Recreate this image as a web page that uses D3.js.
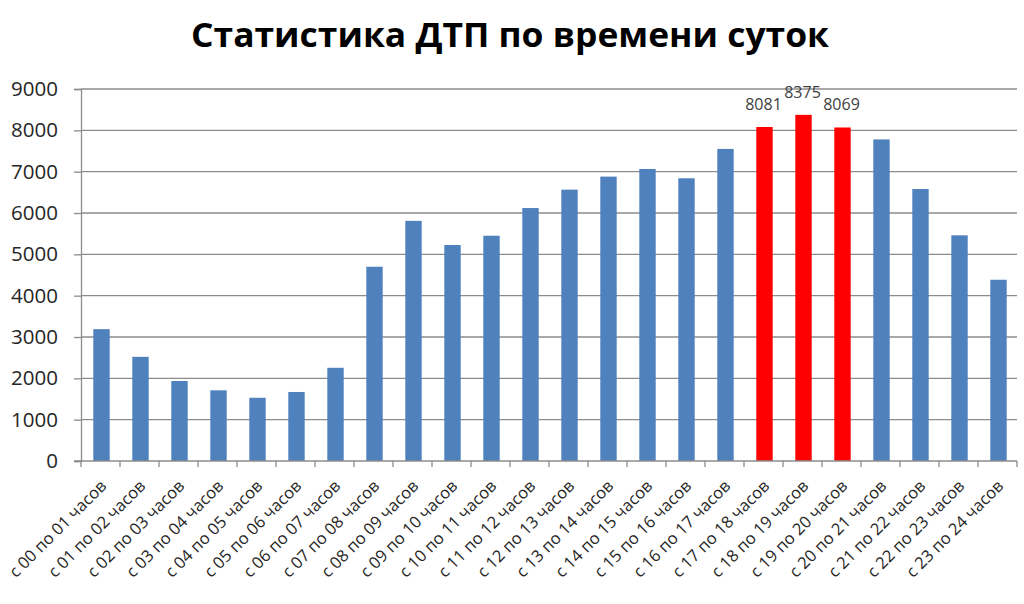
<!DOCTYPE html>
<html>
<head>
<meta charset="utf-8">
<script src="https://cdn.jsdelivr.net/npm/d3@7"></script>
<style>
  body { margin: 0; background: #fff; }
  svg { display: block; }
  text { font-family: "Open Sans", "DejaVu Sans", sans-serif; }
</style>
</head>
<body>
<svg id="chart" width="1024" height="604"></svg>
<script>
// часы суток
const hours = ['00','01','02','03','04','05','06','07','08','09','10','11',
               '12','13','14','15','16','17','18','19','20','21','22','23']
const categories = hours.map((h, i) => `с ${h} по ${String(i + 1).padStart(2, '0')} часов`)
// количество ДТП
const values = [3190, 2520, 1935, 1710, 1530, 1670, 2255, 4700, 5810, 5225, 5450, 6120,
                6565, 6880, 7065, 6840, 7550, 8081, 8375, 8069, 7780, 6580, 5460, 4385]
// выделенные часы пик
const peakHours = [17, 18, 19]
const yTicks = [0, 1000, 2000, 3000, 4000, 5000, 6000, 7000, 8000, 9000]

const BLUE = '#4f81bd'
const RED = '#ff0000'

const svg = d3.select('#chart')
const margin = {left: 81, right: 1017, top: 89, bottom: 461}

const x = d3.scaleBand()
    .domain(categories)
    .range([margin.left, margin.right])
    .paddingInner(0.58)
    .paddingOuter(0.29)

const y = d3.scaleLinear()
    .domain([0, 9000])
    .range([margin.bottom, margin.top])

const step = x.step()

// заголовок
svg.append('text')
    .attr('x', 510)
    .attr('y', 47)
    .attr('text-anchor', 'middle')
    .attr('font-size', 34)
    .attr('font-weight', 'bold')
    .attr('fill', '#000')
    .attr('textLength', 638)
    .attr('lengthAdjust', 'spacingAndGlyphs')
    .text('Статистика ДТП по времени суток')

// сетка
svg.append('g')
    .selectAll('line')
    .data(yTicks.filter((d) => d > 0))
    .enter()
        .append('line')
        .attr('x1', margin.left)
        .attr('x2', margin.right)
        .attr('y1', (d) => y(d))
        .attr('y2', (d) => y(d))
        .attr('stroke', '#8c8c8c')
        .attr('stroke-width', 1.3)

// ось Y
const yAxis = svg.append('g')
    .attr('transform', `translate(${margin.left},0)`)
    .call(d3.axisLeft(y).tickValues(yTicks).tickSize(7).tickPadding(16).tickFormat(d3.format('d')))
yAxis.select('.domain').attr('stroke', '#8c8c8c').attr('stroke-width', 1.3)
yAxis.selectAll('.tick line').attr('stroke', '#8c8c8c').attr('stroke-width', 1.3)
yAxis.selectAll('.tick text')
    .attr('font-size', 20.5)
    .attr('fill', '#262626')
    .attr('font-family', '"Open Sans", sans-serif')

// столбцы
svg.append('g')
    .selectAll('rect')
    .data(values)
    .enter()
        .append('rect')
        .attr('x', (d, i) => x(categories[i]) + 1)
        .attr('y', (d) => y(d))
        .attr('width', x.bandwidth())
        .attr('height', (d) => y(0) - y(d))
        .attr('fill', (d, i) => peakHours.includes(i) ? RED : BLUE)

// подписи значений для часов пик
svg.append('g')
    .selectAll('text')
    .data(peakHours)
    .enter()
        .append('text')
        .attr('x', (i) => x(categories[i]) + x.bandwidth() / 2)
        .attr('y', (i) => y(values[i]) - 17)
        .attr('text-anchor', 'middle')
        .attr('font-size', 16)
        .attr('fill', '#404040')
        .text((i) => values[i])

// ось X
svg.append('line')
    .attr('x1', margin.left - 7)
    .attr('x2', margin.right)
    .attr('y1', y(0))
    .attr('y2', y(0))
    .attr('stroke', '#8c8c8c')
    .attr('stroke-width', 1.3)

const boundaries = categories.map((c) => x(c) - step * x.paddingInner() / 2).concat([margin.right])
svg.append('g')
    .selectAll('line')
    .data(boundaries)
    .enter()
        .append('line')
        .attr('x1', (d) => d)
        .attr('x2', (d) => d)
        .attr('y1', y(0))
        .attr('y2', y(0) + 6)
        .attr('stroke', '#8c8c8c')
        .attr('stroke-width', 1.3)

svg.append('g')
    .selectAll('text')
    .data(categories)
    .enter()
        .append('text')
        .attr('transform', (d) => `translate(${x(d) + x.bandwidth() / 2 + 7},${y(0) + 26}) rotate(-45)`)
        .attr('text-anchor', 'end')
        .attr('font-size', 16.5)
        .attr('fill', '#262626')
        .text((d) => d)
</script>
</body>
</html>
